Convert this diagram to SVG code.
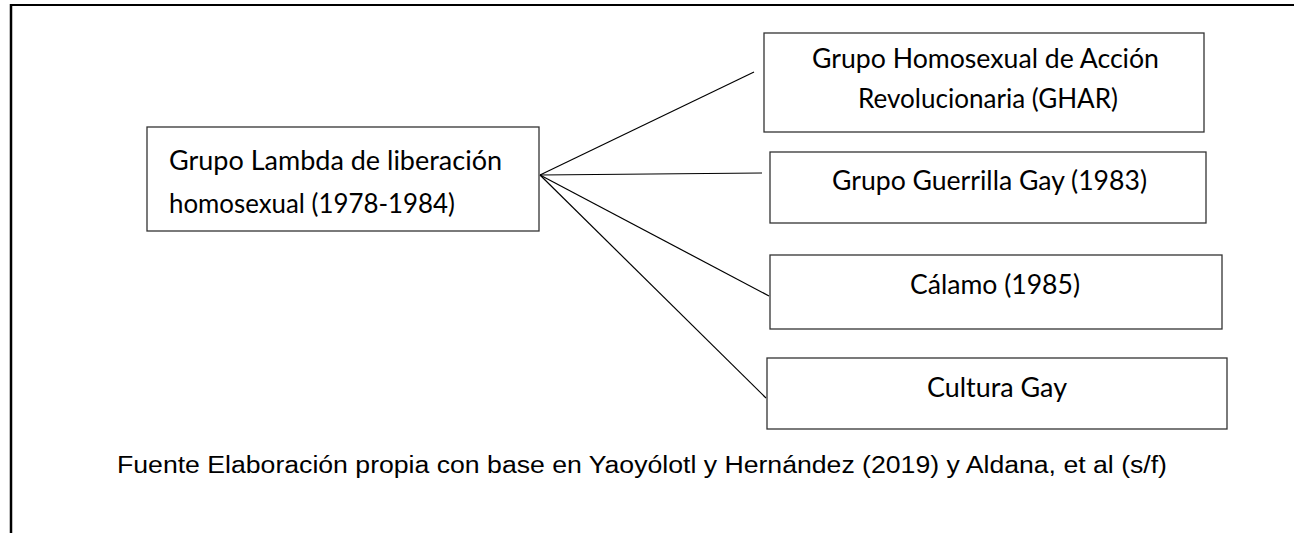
<svg xmlns="http://www.w3.org/2000/svg" width="1294" height="533" viewBox="0 0 1294 533">
<style>
.box{fill:#fff;stroke:#333;stroke-width:1.3}
.t{font-family:Lato,"Open Sans",sans-serif;font-size:26px;fill:#000}
.f{font-family:"Liberation Sans",Arial,sans-serif;font-size:23px;fill:#000}
.c{stroke:#000;stroke-width:1.2;fill:none}
</style>
<rect x="0" y="0" width="1294" height="533" fill="#fff"/>
<g id="frame">
<line x1="10" y1="5" x2="1294" y2="5" stroke="#000" stroke-width="2"/>
<line x1="11" y1="4" x2="11" y2="533" stroke="#000" stroke-width="2.5"/>
</g>
<g id="connectors">
<line class="c" x1="540" y1="175" x2="754" y2="72"/>
<line class="c" x1="540" y1="175" x2="762" y2="173"/>
<line class="c" x1="540" y1="175" x2="769" y2="296"/>
<line class="c" x1="540" y1="175" x2="766" y2="398"/>
</g>
<g id="lambda">
<rect class="box" x="147" y="127" width="392" height="104"/>
<text class="t" x="169" y="170" textLength="333" lengthAdjust="spacingAndGlyphs">Grupo Lambda de liberación</text>
<text class="t" x="169" y="213" textLength="286" lengthAdjust="spacingAndGlyphs">homosexual (1978-1984)</text>
</g>
<g id="ghar">
<rect class="box" x="764" y="33" width="440" height="99"/>
<text class="t" x="812" y="68" textLength="347" lengthAdjust="spacingAndGlyphs">Grupo Homosexual de Acción</text>
<text class="t" x="858" y="108" textLength="260" lengthAdjust="spacingAndGlyphs">Revolucionaria (GHAR)</text>
</g>
<g id="guerrilla">
<rect class="box" x="770" y="152" width="436" height="71"/>
<text class="t" x="832" y="190" textLength="315" lengthAdjust="spacingAndGlyphs">Grupo Guerrilla Gay (1983)</text>
</g>
<g id="calamo">
<rect class="box" x="770" y="255" width="452" height="74"/>
<text class="t" x="910" y="294" textLength="170" lengthAdjust="spacingAndGlyphs">Cálamo (1985)</text>
</g>
<g id="cultura">
<rect class="box" x="767" y="358" width="460" height="71"/>
<text class="t" x="927" y="397" textLength="140" lengthAdjust="spacingAndGlyphs">Cultura Gay</text>
</g>
<g id="source">
<text class="f" x="117" y="473" textLength="1050" lengthAdjust="spacingAndGlyphs">Fuente Elaboración propia con base en Yaoyólotl y Hernández (2019) y Aldana, et al (s/f)</text>
</g>
</svg>
